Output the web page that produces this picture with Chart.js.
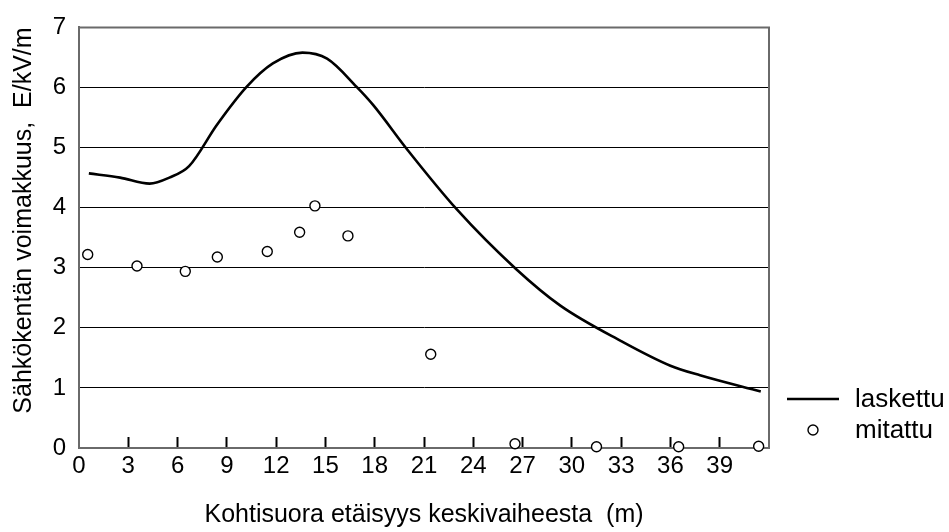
<!DOCTYPE html>
<html>
<head>
<meta charset="utf-8">
<script src="https://cdn.jsdelivr.net/npm/chart.js@4.4.0/dist/chart.umd.min.js"></script>
<style>
  html, body { margin:0; padding:0; background:#fff; }
  #wrap { width:949px; height:532px; position:relative; }
</style>
</head>
<body>
<div id="wrap"><canvas id="ch"></canvas></div>
<script>
var FONT = '"Liberation Sans", Arial, sans-serif';
var AXIS_GREY = '#6a6a6a';

// laskettu: calculated field strength along the profile
var curveX = [0.6, 2.5, 4.3, 5.5, 6.7, 8.4, 10.2, 11.8, 13.6, 15.1, 16.9, 17.9, 20.0, 23.0, 26.6, 29.3, 33.0, 36.0, 37.8, 41.5];
var curveY = [4.57, 4.50, 4.40, 4.50, 4.69, 5.38, 6.01, 6.40, 6.58, 6.48, 6.01, 5.71, 4.96, 3.97, 2.98, 2.37, 1.78, 1.37, 1.21, 0.94];

// mitattu: measured points
var measX = [0.53, 3.53, 6.47, 8.42, 11.46, 13.43, 14.36, 16.37, 21.41, 26.54, 31.5, 36.5, 41.37];
var measY = [3.22, 3.03, 2.94, 3.18, 3.27, 3.59, 4.03, 3.53, 1.56, 0.07, 0.02, 0.02, 0.03];

var xTicks = [0, 3, 6, 9, 12, 15, 18, 21, 24, 27, 30, 33, 36, 39];
var yTicks = [0, 1, 2, 3, 4, 5, 6, 7];
var seriesNames = ['laskettu', 'mitattu'];
var xTitle = 'Kohtisuora etäisyys keskivaiheesta  (m)';
var yTitle = 'Sähkökentän voimakkuus,  E/kV/m';

function pts(xs, ys){ return xs.map(function(x, i){ return {x:x, y:ys[i]}; }); }

// top/right frame + legend beside the plot, bottom right
var frameLegend = {
  id:'frameLegend',
  afterDraw:function(chart){
    var c = chart.ctx, a = chart.chartArea, ds = chart.data.datasets;
    c.save();
    c.strokeStyle = AXIS_GREY; c.lineWidth = 2;
    c.beginPath(); c.moveTo(a.left, a.top); c.lineTo(a.right, a.top); c.lineTo(a.right, a.bottom + 1); c.stroke();

    var lx = a.right + 18, lineY = 399, dotY = 430, tx = a.right + 86;
    c.strokeStyle = '#000'; c.lineWidth = 2.6;
    c.beginPath(); c.moveTo(lx, lineY); c.lineTo(lx + 52, lineY); c.stroke();
    c.fillStyle = '#fff'; c.lineWidth = 1.4;
    c.beginPath(); c.arc(lx + 26, dotY, 5, 0, Math.PI * 2); c.fill(); c.stroke();

    c.fillStyle = '#000'; c.font = '26px ' + FONT;
    c.textAlign = 'left'; c.textBaseline = 'middle';
    c.fillText(ds[0].label, tx, lineY + 1);
    c.fillText(ds[1].label, tx, dotY + 1);
    c.restore();
  }
};

new Chart(document.getElementById('ch'), {
  type:'scatter',
  data:{
    datasets:[
      { label:seriesNames[0], data:pts(curveX, curveY), showLine:true,
        borderColor:'#000', borderWidth:2.6, pointRadius:0,
        cubicInterpolationMode:'monotone', fill:false, order:2 },
      { label:seriesNames[1], data:pts(measX, measY), showLine:false,
        pointRadius:5, pointBackgroundColor:'#fff', pointBorderColor:'#000',
        pointBorderWidth:1.4, clip:false, order:1 }
    ]
  },
  options:{
    responsive:true, maintainAspectRatio:false, animation:false, events:[],
    layout:{ padding:{ left:0, top:25, right:180, bottom:0 } },
    plugins:{ legend:{ display:false }, tooltip:{ enabled:false } },
    scales:{
      x:{
        type:'linear', min:0, max:42,
        afterBuildTicks:function(s){ s.ticks = xTicks.map(function(v){ return {value:v}; }); },
        afterFit:function(s){ s.height = 84; },
        grid:{ display:true, drawOnChartArea:false, drawTicks:true, tickLength:-11, tickWidth:2,
          tickColor:function(c){ return c.tick && c.tick.value === 0 ? 'rgba(0,0,0,0)' : '#000'; } },
        border:{ color:AXIS_GREY, width:2 },
        ticks:{ color:'#000', font:{ family:FONT, size:24 }, padding:15, maxRotation:0, autoSkip:false },
        title:{ display:true, text:xTitle, color:'#000', font:{ family:FONT, size:25 }, padding:{ top:0, bottom:2 } }
      },
      y:{
        type:'linear', min:0, max:7,
        afterBuildTicks:function(s){ s.ticks = yTicks.map(function(v){ return {value:v}; }); },
        afterFit:function(s){ s.width = 79; },
        grid:{ drawTicks:false, lineWidth:1,
          color:function(c){ var v = c.tick && c.tick.value; return (v === 0 || v === 7) ? 'rgba(0,0,0,0)' : '#000'; } },
        border:{ color:AXIS_GREY, width:2 },
        ticks:{ color:'#000', font:{ family:FONT, size:24 }, padding:13 },
        title:{ display:true, text:yTitle, align:'end', color:'#000', font:{ family:FONT, size:25 }, padding:{ top:9, bottom:0 } }
      }
    }
  },
  plugins:[frameLegend]
});
</script>
</body>
</html>
